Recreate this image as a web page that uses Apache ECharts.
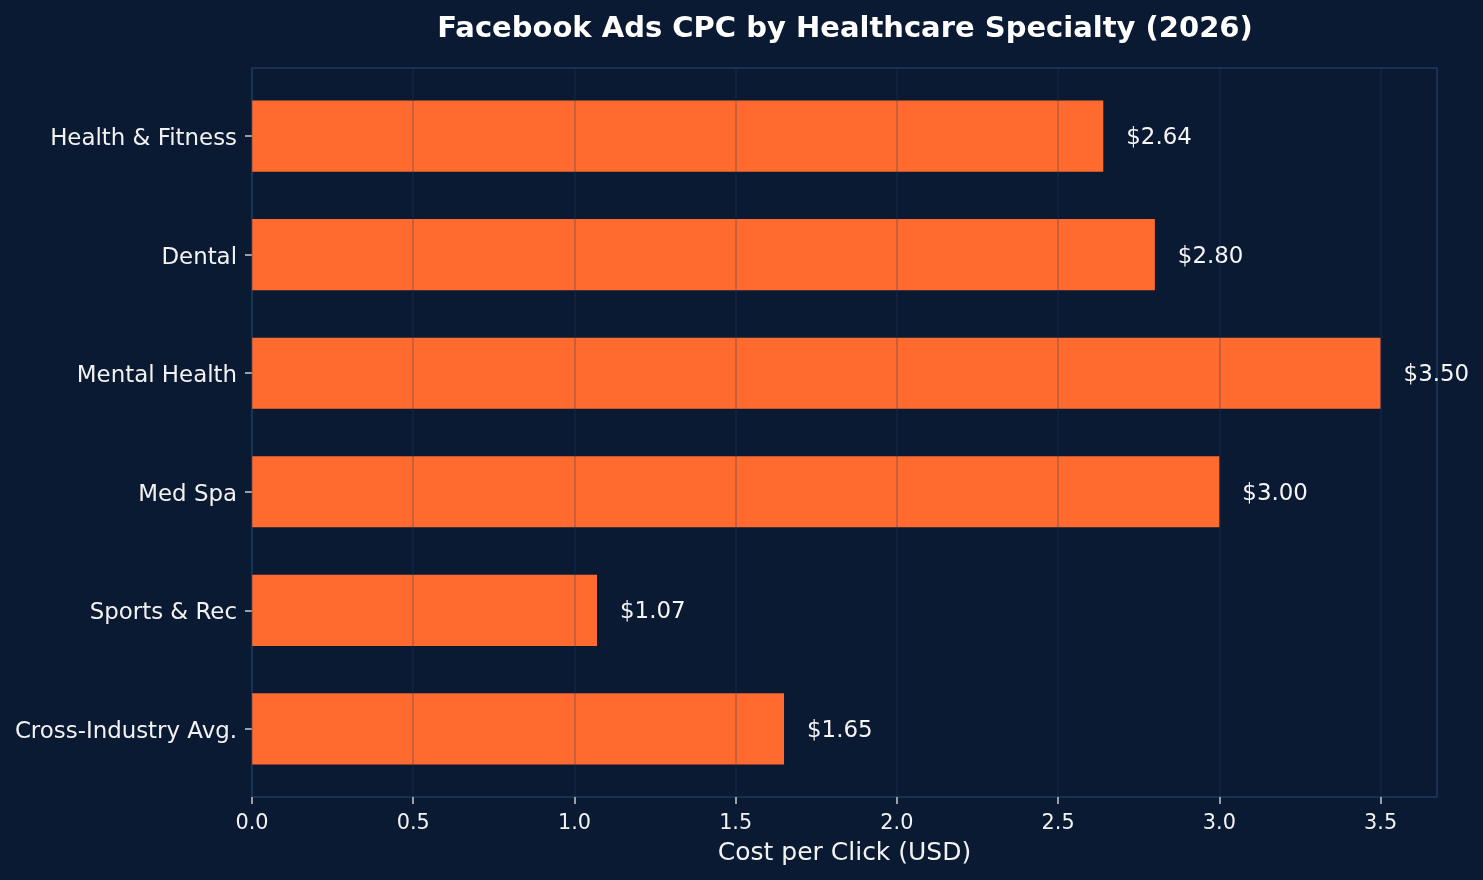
<!DOCTYPE html>
<html>
<head>
<meta charset="utf-8">
<script src="https://cdn.jsdelivr.net/npm/echarts@6/dist/echarts.min.js"></script>
<style>
html,body{margin:0;padding:0;background:#0b1a33;}
#chart{width:1483px;height:880px;}
</style>
</head>
<body>
<div id="chart"></div>
<script>
const categories = ['Health & Fitness', 'Dental', 'Mental Health', 'Med Spa', 'Sports & Rec', 'Cross-Industry Avg.'];
const cpcValues = [2.64, 2.80, 3.50, 3.00, 1.07, 1.65];
const xTicks = [0, 0.5, 1.0, 1.5, 2.0, 2.5, 3.0, 3.5];
const xMax = 3.675;

const FONT = 'DejaVu Sans';
const chart = echarts.init(document.getElementById('chart'), null, {renderer: 'canvas'});

chart.setOption({
  backgroundColor: '#0b1a33',
  animation: false,
  textStyle: {fontFamily: FONT},
  title: {
    text: 'Facebook Ads CPC by Healthcare Specialty (2026)',
    left: 840,
    textAlign: 'center',
    top: 10,
    textStyle: {color: '#ffffff', fontSize: 29, fontWeight: 'bold', fontFamily: FONT}
  },
  grid: [
    {left: 252, right: 46, top: 76.85, bottom: 91.85, show: false},
    {left: 252, right: 46, top: 68, bottom: 83, show: true, borderColor: '#1e3a5f', borderWidth: 1.5, backgroundColor: 'transparent'}
  ],
  xAxis: [
    {gridIndex: 0, type: 'value', min: 0, max: xMax, show: false},
    {
      gridIndex: 1, type: 'value', min: 0, max: xMax, interval: 0.5, z: 5,
      name: 'Cost per Click (USD)', nameLocation: 'middle', nameGap: 44,
      nameTextStyle: {color: '#f2f2f2', fontSize: 25, fontFamily: FONT},
      axisLine: {show: false},
      axisTick: {show: true, length: 7, lineStyle: {color: '#cccccc', width: 1.5}, customValues: xTicks},
      axisLabel: {color: '#f2f2f2', fontSize: 20.8, margin: 16, fontFamily: FONT, customValues: xTicks,
        formatter: v => v.toFixed(1)},
      splitLine: {show: true, lineStyle: {color: 'rgba(30,58,95,0.32)', width: 1.5}}
    }
  ],
  yAxis: [
    {
      gridIndex: 0, type: 'category', data: categories, inverse: true,
      axisLine: {show: false},
      axisTick: {show: true, alignWithLabel: true, length: 7, lineStyle: {color: '#cccccc', width: 1.5}},
      axisLabel: {
        color: '#f2f2f2', fontSize: 22.9, margin: 15, fontFamily: FONT,
        formatter: v => '{t|' + v + '}',
        rich: {t: {color: '#f2f2f2', fontSize: 22.9, fontFamily: FONT, padding: [6, 0, 0, 0]}}
      },
      splitLine: {show: false}
    },
    {gridIndex: 1, type: 'value', min: 0, max: 1, show: false}
  ],
  series: [{
    type: 'bar',
    xAxisIndex: 0, yAxisIndex: 0,
    data: cpcValues,
    barWidth: '60%',
    itemStyle: {color: '#ff6b2f'},
    z: 2,
    label: {
      show: true, position: 'right', distance: 23, offset: [0, 2],
      color: '#f5f5f5', fontSize: 22.9, fontFamily: FONT,
      formatter: p => '$' + p.value.toFixed(2)
    }
  }]
});
</script>
</body>
</html>
